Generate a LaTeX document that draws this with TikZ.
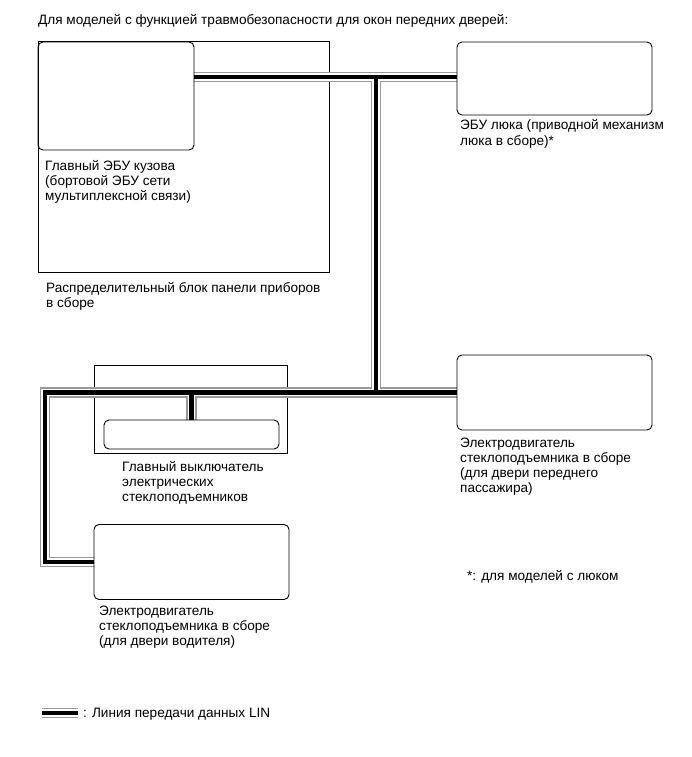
\documentclass[tikz,border=0pt]{standalone}
\usepackage{fontspec}
\setmainfont{Liberation Sans}
\pgfdeclarelayer{bg}
\pgfsetlayers{bg,main}
\newcommand\lblfont{\fontsize{13.6}{15}\selectfont}
\begin{document}
\begin{tikzpicture}[x=1pt,y=-1pt,
  rbox/.style={draw, line width=0.9pt, rounded corners=5pt, inner sep=0pt},
  pbox/.style={draw, line width=0.9pt, inner sep=0pt},
  lbl/.style={anchor=base west, align=left, inner sep=0pt, font=\lblfont}]
\useasboundingbox (0,0) rectangle (691,757);
% rounded units
\node[rbox, minimum width=156pt, minimum height=108pt] (ecu) at (116,96) {};
\node[rbox, minimum width=195pt, minimum height=73pt] (sun) at (554.5,78.5) {};
\node[rbox, minimum width=195pt, minimum height=75pt] (pas) at (554.5,392.5) {};
\node[rbox, minimum width=175pt, minimum height=29pt] (mws) at (191.5,434.5) {};
\node[rbox, minimum width=195pt, minimum height=75pt] (drv) at (191.5,562) {};
\coordinate (j1) at (376,77);
\coordinate (c45) at (45,0);
\coordinate (j2) at (j1 |- pas.west);
\coordinate (j3) at (pas.west -| c45);
\coordinate (l1) at (42,713);
\coordinate (l2) at (78,713);
\begin{pgfonlayer}{bg}
\node[pbox, minimum width=291pt, minimum height=231pt] (jb) at (183.5,156.5) {};
\node[pbox, minimum width=193pt, minimum height=88pt] (mwo) at (190.5,409) {};
\foreach \w/\c in {10.5/black!40, 7.5/white, 4.5/black} {
  \draw[line width=\w pt, draw=\c, line join=miter]
    (ecu.east |- j1) -- (sun.west |- j1)
    (j1) -- (j2)
    (pas.west) -- (j3) -- (j3 |- drv.west) -- (drv.west)
    (mws.north) -- (mws.north |- j3)
    (l1) -- (l2);
}
\end{pgfonlayer}
% labels (anchor = baseline of last line)
\node[lbl] (tTitle) at (38,25) {Для моделей с функцией травмобезопасности для окон передних дверей:};
\node[lbl] (tEcu) at (45,200) {Главный ЭБУ кузова\\(бортовой ЭБУ сети\\мультиплексной связи)};
\node[lbl] (tJb) at (46,307) {Распределительный блок панели приборов\\в сборе};
\node[lbl] (tSun) at (460,145) {ЭБУ люка (приводной механизм\\люка в сборе)*};
\node[lbl] (tPas) at (460,492) {Электродвигатель\\стеклоподъемника в сборе\\(для двери переднего\\пассажира)};
\node[lbl] (tMws) at (122,501) {Главный выключатель\\электрических\\стеклоподъемников};
\node[lbl] (tDrv) at (99,645) {Электродвигатель\\стеклоподъемника в сборе\\(для двери водителя)};
\node[lbl] (tNote) at (467,580) {*: для моделей с люком};
\node[lbl] (tLeg) at (83,717) {: Линия передачи данных LIN};
\end{tikzpicture}
\end{document}
